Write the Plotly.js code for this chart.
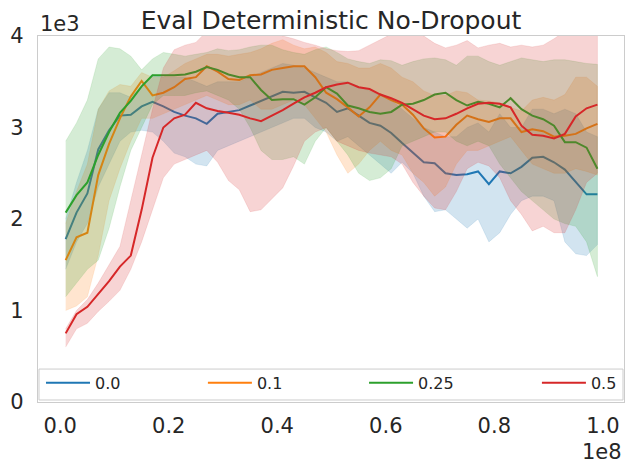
<!DOCTYPE html>
<html>
<head>
<meta charset="utf-8">
<script src="https://cdn.plot.ly/plotly-3.0.1.min.js"></script>
<style>html,body{margin:0;padding:0;background:#fff;}#chart{width:635px;height:474px;}</style>
</head>
<body>
<div id="chart"></div>
<script>
// steps (x 1e8)
const steps = [0.01,0.03,0.05,0.07,0.09,0.11,0.13,0.15,0.17,0.19,0.21,0.23,0.25,0.27,0.29,0.31,0.33,0.35,0.37,0.39,0.41,0.43,0.45,0.47,0.49,0.51,0.53,0.55,0.57,0.59,0.61,0.63,0.65,0.67,0.69,0.71,0.73,0.75,0.77,0.79,0.81,0.83,0.85,0.87,0.89,0.91,0.93,0.95,0.97,0.99];

const seriesNames = ['0.0','0.1','0.25','0.5'];

// returns (x 1e3)
const mean00 = [1.78,2.07,2.28,2.76,2.97,3.13,3.14,3.23,3.28,3.23,3.17,3.13,3.10,3.04,3.15,3.17,3.19,3.24,3.29,3.34,3.39,3.38,3.39,3.33,3.27,3.17,3.21,3.13,3.05,3.02,2.94,2.83,2.73,2.62,2.61,2.50,2.48,2.49,2.52,2.38,2.52,2.50,2.57,2.67,2.68,2.62,2.54,2.40,2.27,2.27];
const low00  = [1.45,1.75,1.95,2.35,2.60,2.85,2.95,2.97,2.95,2.85,2.72,2.68,2.60,2.58,2.75,2.80,2.85,2.90,2.95,3.00,3.05,3.10,3.10,3.00,2.95,2.85,2.90,2.80,2.70,2.60,2.50,2.62,2.50,2.25,2.08,2.10,2.00,1.90,2.00,1.75,1.85,2.05,2.20,2.25,2.25,2.20,1.75,1.62,1.60,1.72];
const up00   = [2.00,2.40,2.75,3.20,3.38,3.38,3.33,3.45,3.58,3.55,3.55,3.55,3.50,3.45,3.50,3.50,3.50,3.55,3.60,3.65,3.70,3.68,3.65,3.60,3.55,3.50,3.50,3.45,3.40,3.35,3.30,3.20,3.10,3.00,2.95,2.90,2.90,3.00,3.05,2.95,3.15,3.00,3.00,3.20,3.20,3.15,3.20,3.15,2.95,2.90];

const mean01 = [1.55,1.80,1.85,2.48,2.82,3.10,3.34,3.51,3.35,3.38,3.44,3.53,3.55,3.67,3.61,3.53,3.52,3.57,3.58,3.63,3.65,3.67,3.67,3.55,3.38,3.31,3.22,3.12,3.22,3.36,3.30,3.25,3.14,2.99,2.89,2.90,3.03,3.13,3.09,3.06,3.10,3.10,2.95,2.98,2.96,2.90,2.91,2.93,2.99,3.04];
const low01  = [1.00,1.05,1.15,1.60,2.20,2.55,2.85,3.10,3.10,3.15,3.20,3.25,3.30,3.35,3.30,3.25,3.25,3.30,3.20,3.20,3.25,3.30,3.25,3.10,2.95,2.70,2.50,2.60,2.75,2.85,2.75,2.70,2.50,2.40,2.25,2.35,2.60,2.75,2.75,2.80,2.85,2.90,2.75,2.60,2.55,2.50,2.50,2.55,2.52,2.48];
const up01   = [1.95,2.30,2.60,3.20,3.40,3.47,3.45,3.60,3.55,3.55,3.62,3.70,3.75,3.80,3.80,3.78,3.80,3.82,3.86,3.92,3.96,3.90,3.86,3.88,3.82,3.72,3.70,3.65,3.65,3.70,3.65,3.55,3.50,3.40,3.35,3.35,3.40,3.38,3.30,3.29,3.27,3.22,3.18,3.30,3.33,3.30,3.36,3.55,3.55,3.45];

const mean025 = [2.07,2.26,2.40,2.70,2.95,3.16,3.29,3.45,3.57,3.57,3.57,3.58,3.61,3.66,3.63,3.58,3.55,3.55,3.41,3.30,3.31,3.31,3.25,3.33,3.44,3.37,3.24,3.21,3.17,3.15,3.17,3.25,3.26,3.30,3.36,3.38,3.30,3.24,3.28,3.26,3.22,3.32,3.20,3.13,3.09,3.02,2.84,2.84,2.78,2.55];
const low025  = [1.15,1.30,1.45,1.55,1.90,2.35,2.75,3.00,3.25,3.35,3.35,3.35,3.38,3.40,3.35,3.30,3.20,3.00,2.75,2.65,2.65,2.68,2.60,2.85,3.00,2.85,2.70,2.50,2.42,2.45,2.55,2.80,2.85,2.90,2.95,2.95,2.85,2.80,2.85,2.80,2.60,2.45,2.30,2.20,2.10,2.00,1.95,1.92,1.75,1.37];
const up025   = [2.85,3.05,3.30,3.75,3.88,3.86,3.78,3.63,3.75,3.82,3.80,3.78,3.80,3.82,3.86,3.84,3.85,3.88,3.90,3.90,3.85,3.82,3.80,3.85,3.88,3.82,3.75,3.72,3.70,3.74,3.73,3.68,3.72,3.75,3.76,3.74,3.68,3.78,3.78,3.72,3.68,3.72,3.76,3.74,3.72,3.74,3.74,3.72,3.70,3.69];

const mean05 = [0.75,0.96,1.04,1.18,1.32,1.48,1.60,2.10,2.67,3.00,3.10,3.14,3.27,3.21,3.18,3.16,3.14,3.10,3.07,3.13,3.19,3.26,3.33,3.38,3.44,3.47,3.49,3.44,3.42,3.36,3.32,3.27,3.20,3.13,3.09,3.10,3.15,3.21,3.26,3.27,3.26,3.22,3.02,2.92,2.91,2.88,2.93,3.12,3.21,3.25];
const low05  = [0.60,0.80,0.86,0.99,1.10,1.22,1.45,1.75,2.10,2.45,2.60,2.65,2.70,2.75,2.62,2.42,2.32,2.08,2.10,2.22,2.34,2.58,2.85,2.95,3.00,2.85,2.80,2.75,2.72,2.70,2.68,2.60,2.40,2.25,2.12,2.10,2.30,2.55,2.62,2.58,2.45,2.20,2.05,1.87,1.92,1.85,1.85,2.10,2.40,2.50];
const up05   = [0.80,1.00,1.12,1.30,1.50,1.70,2.20,2.70,3.20,3.65,3.85,3.90,3.93,4.05,4.10,4.15,4.20,4.20,4.15,4.05,4.00,3.97,3.93,3.90,3.86,3.84,3.83,3.84,3.90,3.96,4.02,4.05,4.05,4.00,3.92,3.87,3.90,3.95,3.87,3.90,3.92,3.88,3.90,3.88,3.90,3.97,4.05,4.15,4.20,4.20];

const xTickVals = [0,0.2,0.4,0.6,0.8,1.0];
const xTickText = ['0.0','0.2','0.4','0.6','0.8','1.0'];
const yTickVals = [0,1,2,3,4];
const yTickText = ['0','1','2','3','4'];

const colors = ['#1f77b4','#ff7f0e','#2ca02c','#d62728'];
const bandColors = ['rgba(31,119,180,0.2)','rgba(255,127,14,0.2)','rgba(44,160,44,0.2)','rgba(214,39,40,0.2)'];
const means = [mean00, mean01, mean025, mean05];
const lows = [low00, low01, low025, low05];
const ups = [up00, up01, up025, up05];
const legendIds = ['legend','legend2','legend3','legend4'];

const traces = [];
for (let i = 0; i < 4; i++) {
  traces.push({
    x: steps.concat(steps.slice().reverse()),
    y: ups[i].concat(lows[i].slice().reverse()),
    type: 'scatter', mode: 'lines', fill: 'toself',
    fillcolor: bandColors[i],
    line: {width: 0.6, color: bandColors[i]},
    showlegend: false, hoverinfo: 'skip'
  });
  traces.push({
    x: steps, y: means[i], type: 'scatter', mode: 'lines',
    name: seriesNames[i], line: {color: colors[i], width: 2},
    legend: legendIds[i]
  });
}

const legendX = [0.0051, 0.2814, 0.5564, 0.8514];
const legendFont = {family: 'DejaVu Sans', size: 16, color: '#262626'};
function mkLegend(xp) {
  return {x: xp, y: 0.052, xanchor: 'left', yanchor: 'middle', bgcolor: 'rgba(0,0,0,0)',
          borderwidth: 0, font: legendFont, itemwidth: 44};
}

const layout = {
  width: 635, height: 474,
  margin: {l: 38, r: 11, t: 36, b: 72},
  paper_bgcolor: '#ffffff', plot_bgcolor: '#ffffff',
  font: {family: 'DejaVu Sans', color: '#262626'},
  title: {text: 'Eval Deterministic No-Dropout', font: {family: 'DejaVu Sans', size: 25, color: '#262626'},
          x: 0.5, xref: 'paper', y: 0.957, yanchor: 'middle'},
  xaxis: {range: [-0.041, 1.039], tickvals: xTickVals, ticktext: xTickText, showgrid: false, zeroline: false,
          showline: true, mirror: true, linecolor: '#cccccc', linewidth: 1.3, ticks: '',
          tickfont: {family: 'DejaVu Sans', size: 21, color: '#262626'}, ticklabelstandoff: 4},
  yaxis: {range: [0, 4], tickvals: yTickVals, ticktext: yTickText, showgrid: false, zeroline: false,
          showline: true, mirror: true, linecolor: '#cccccc', linewidth: 1.3, ticks: '',
          tickfont: {family: 'DejaVu Sans', size: 21, color: '#262626'}, ticklabelstandoff: 9},
  legend: mkLegend(legendX[0]), legend2: mkLegend(legendX[1]), legend3: mkLegend(legendX[2]), legend4: mkLegend(legendX[3]),
  shapes: [{type: 'rect', xref: 'paper', yref: 'paper', x0: 0.0017, x1: 0.9983, y0: 0.0055, y1: 0.090,
            line: {color: '#cccccc', width: 1}, fillcolor: 'rgba(255,255,255,0.8)', layer: 'above'}],
  annotations: [
    {text: '1e3', xref: 'paper', yref: 'paper', x: 0, y: 1, xanchor: 'left', yanchor: 'bottom', showarrow: false,
     font: {family: 'DejaVu Sans', size: 21, color: '#262626'}, yshift: -2},
    {text: '1e8', xref: 'paper', yref: 'paper', x: 1, y: 0, xanchor: 'right', yanchor: 'top', showarrow: false,
     font: {family: 'DejaVu Sans', size: 21, color: '#262626'}, yshift: -36}
  ]
};

Plotly.newPlot('chart', traces, layout, {staticPlot: true, displayModeBar: false});
</script>
</body>
</html>
